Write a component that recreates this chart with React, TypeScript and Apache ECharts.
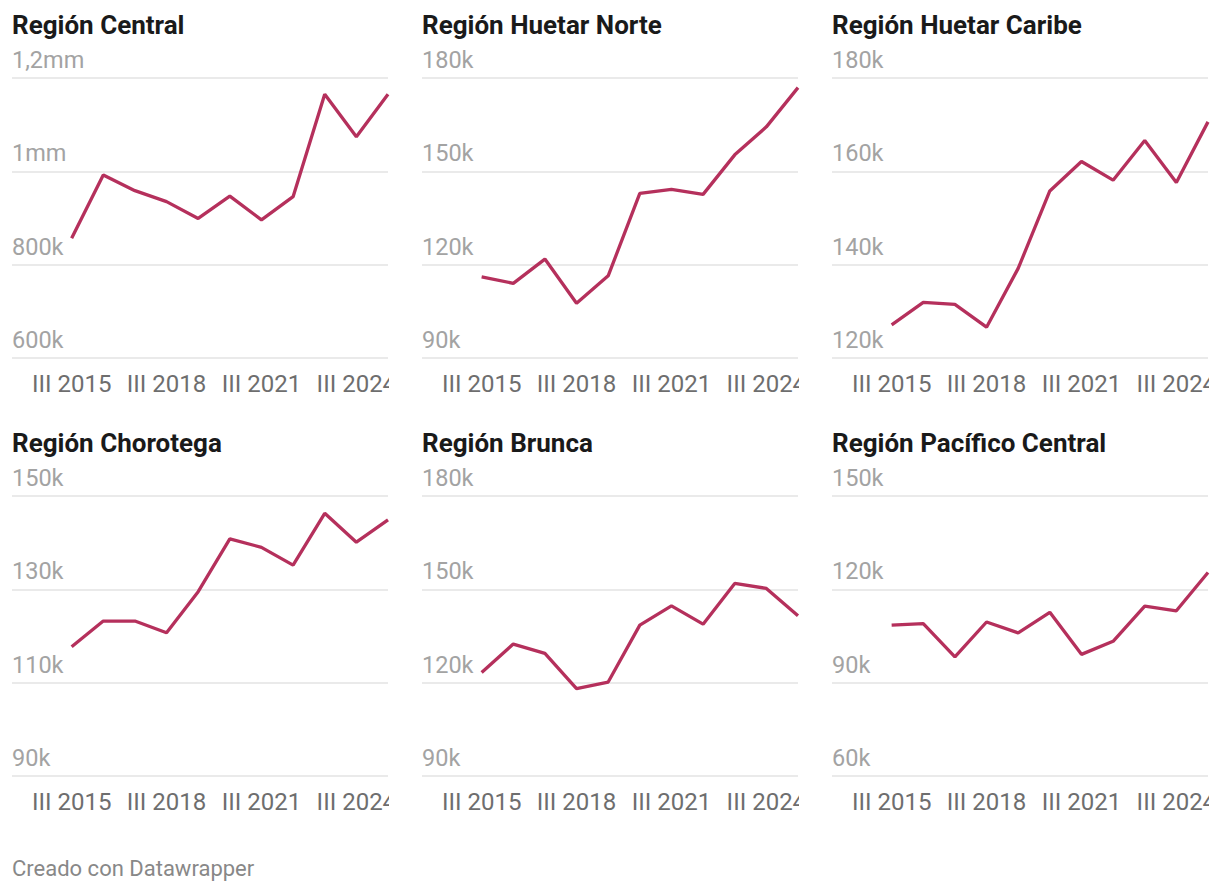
import React, { useEffect, useRef } from "react";
import * as echarts from "echarts";

const years = [2015, 2016, 2017, 2018, 2019, 2020, 2021, 2022, 2023, 2024, 2025];
const tickYears = [2015, 2018, 2021, 2024];

const titles = [
  "Región Central",
  "Región Huetar Norte",
  "Región Huetar Caribe",
  "Región Chorotega",
  "Región Brunca",
  "Región Pacífico Central",
];

const central = [856500, 992000, 958600, 935000, 899000, 947000, 896000, 945700, 1165000, 1074000, 1165000];
const huetarNorte = [116100, 114000, 121800, 107600, 116400, 142900, 144200, 142600, 155300, 164300, 176900];
const huetarCaribe = [127100, 131900, 131500, 126600, 139200, 155800, 162100, 158100, 166600, 157600, 170600];
const chorotega = [117700, 123200, 123200, 120700, 129500, 140800, 139000, 135200, 146300, 140100, 144900];
const brunca = [123300, 132400, 129400, 118100, 120200, 138500, 144700, 138800, 151900, 150300, 141500];
const pacificoCentral = [108500, 109000, 98300, 109500, 106000, 112600, 99100, 103300, 114600, 113100, 125400];

const seriesValues = [central, huetarNorte, huetarCaribe, chorotega, brunca, pacificoCentral];

const yMins = [600000, 90000, 120000, 90000, 90000, 60000];
const yMaxs = [1200000, 180000, 180000, 150000, 180000, 150000];
const yIntervals = [200000, 30000, 20000, 20000, 30000, 30000];

const footerText = "Creado con Datawrapper";

function fmtY(v: number): string {
  if (v >= 1000000) return String(v / 1000000).replace(".", ",") + "mm";
  return Math.round(v / 1000) + "k";
}

export default function App() {
  const ref = useRef<HTMLDivElement>(null);

  useEffect(() => {
    document.body.style.margin = "0";
    if (!ref.current) return;
    const chart = echarts.init(ref.current, null, { renderer: "svg" });

    const colLefts = [12, 422, 832];
    const rowTops = [78, 496];
    const plotW = 376;
    const plotH = 280;
    const titleYs = [25, 443];
    const font = "Roboto, 'Noto Sans', sans-serif";
    const lineColor = "#b5305c";

    const grids: any[] = [];
    const xAxes: any[] = [];
    const yAxes: any[] = [];
    const series: any[] = [];
    const graphics: any[] = [];

    for (let i = 0; i < 6; i++) {
      const col = i % 3;
      const row = Math.floor(i / 3);
      grids.push({
        left: colLefts[col],
        top: rowTops[row],
        width: plotW,
        height: plotH,
        containLabel: false,
      });
      xAxes.push({
        type: "value",
        gridIndex: i,
        min: 2013.115,
        max: 2025,
        axisLine: { show: false },
        axisTick: { show: false },
        splitLine: { show: false },
        axisLabel: {
          customValues: tickYears,
          formatter: (v: number) => "III " + v,
          color: "#6e6e6e",
          fontSize: 24,
          fontFamily: font,
          margin: 14,
          hideOverlap: false,
        },
      });
      yAxes.push({
        type: "value",
        gridIndex: i,
        min: yMins[i],
        max: yMaxs[i],
        interval: yIntervals[i],
        axisLine: { show: false },
        axisTick: { show: false },
        splitLine: { show: true, lineStyle: { color: "#e3e3e3", width: 1.5 } },
        axisLabel: {
          inside: true,
          margin: 0,
          align: "left",
          verticalAlign: "bottom",
          padding: [0, 0, 6, 0],
          formatter: (v: number) => fmtY(v),
          color: "#a3a3a3",
          fontSize: 23.5,
          fontFamily: font,
        },
      });
      series.push({
        type: "line",
        xAxisIndex: i,
        yAxisIndex: i,
        data: years.map((y, k) => [y, seriesValues[i][k]]),
        showSymbol: false,
        symbol: "none",
        lineStyle: { color: lineColor, width: 3.3 },
        clip: false,
      });
      graphics.push({
        type: "text",
        x: colLefts[col],
        y: titleYs[row],
        style: {
          text: titles[i],
          font: `bold 26px ${font}`,
          fill: "#1a1a1a",
          verticalAlign: "middle",
          align: "left",
        },
      });
      // clip x labels at the plot's right edge
      const coverX = colLefts[col] + plotW + 1;
      graphics.push({
        type: "rect",
        z: 100,
        shape: {
          x: coverX,
          y: rowTops[row] + plotH + 8,
          width: col === 2 ? 1220 - coverX : 20,
          height: 40,
        },
        style: { fill: "#ffffff" },
      });
    }

    graphics.push({
      type: "text",
      x: 12,
      y: 868,
      style: {
        text: footerText,
        font: `22px ${font}`,
        fill: "#888888",
        verticalAlign: "middle",
        align: "left",
      },
    });

    chart.setOption({
      animation: false,
      backgroundColor: "#ffffff",
      grid: grids,
      xAxis: xAxes,
      yAxis: yAxes,
      series,
      graphic: graphics,
    });

    return () => chart.dispose();
  }, []);

  return <div ref={ref} style={{ width: 1220, height: 892 }} />;
}
